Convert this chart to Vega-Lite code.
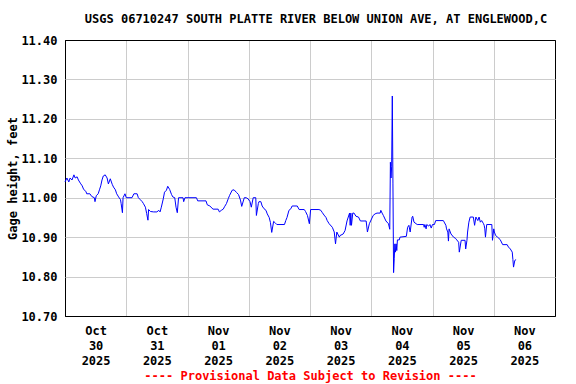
{
  "$schema": "https://vega.github.io/schema/vega-lite/v6.json",
  "width": 490,
  "height": 276,
  "autosize": {"type": "none"},
  "padding": {"left": 65, "top": 40, "right": 21, "bottom": 68},
  "background": "white",
  "config": {"view": {"stroke": "black", "strokeWidth": 1}, "font": "DejaVu Sans Mono"},
  "title": {"text": "USGS 06710247 SOUTH PLATTE RIVER BELOW UNION AVE, AT ENGLEWOOD,C", "font": "DejaVu Sans Mono", "fontSize": 12, "fontWeight": "bold", "color": "black", "anchor": "middle", "offset": 8, "dx": 6},
  "data": {"values": [
    {"t": "2025-10-30T00:00Z", "v": 11.04}, {"t": "2025-10-30T00:45Z", "v": 11.05}, {"t": "2025-10-30T01:30Z", "v": 11.04}, {"t": "2025-10-30T02:00Z", "v": 11.05},
    {"t": "2025-10-30T02:45Z", "v": 11.045}, {"t": "2025-10-30T03:30Z", "v": 11.058}, {"t": "2025-10-30T04:00Z", "v": 11.05}, {"t": "2025-10-30T04:45Z", "v": 11.053},
    {"t": "2025-10-30T05:15Z", "v": 11.045}, {"t": "2025-10-30T06:00Z", "v": 11.037}, {"t": "2025-10-30T06:45Z", "v": 11.03}, {"t": "2025-10-30T07:15Z", "v": 11.022},
    {"t": "2025-10-30T08:15Z", "v": 11.015}, {"t": "2025-10-30T08:30Z", "v": 11.01}, {"t": "2025-10-30T09:45Z", "v": 11.01}, {"t": "2025-10-30T10:30Z", "v": 11.003},
    {"t": "2025-10-30T11:30Z", "v": 11.0}, {"t": "2025-10-30T11:45Z", "v": 10.99}, {"t": "2025-10-30T12:15Z", "v": 11.005}, {"t": "2025-10-30T13:00Z", "v": 11.01},
    {"t": "2025-10-30T13:30Z", "v": 11.02}, {"t": "2025-10-30T14:00Z", "v": 11.03}, {"t": "2025-10-30T14:30Z", "v": 11.045}, {"t": "2025-10-30T15:00Z", "v": 11.055},
    {"t": "2025-10-30T15:45Z", "v": 11.058}, {"t": "2025-10-30T16:30Z", "v": 11.05}, {"t": "2025-10-30T17:00Z", "v": 11.035}, {"t": "2025-10-30T17:45Z", "v": 11.048},
    {"t": "2025-10-30T18:30Z", "v": 11.034}, {"t": "2025-10-30T19:00Z", "v": 11.027}, {"t": "2025-10-30T19:45Z", "v": 11.02}, {"t": "2025-10-30T20:15Z", "v": 11.01},
    {"t": "2025-10-30T21:00Z", "v": 11.002}, {"t": "2025-10-30T21:45Z", "v": 10.995}, {"t": "2025-10-30T22:00Z", "v": 10.985}, {"t": "2025-10-30T22:30Z", "v": 10.962},
    {"t": "2025-10-30T22:45Z", "v": 11.0}, {"t": "2025-10-30T23:30Z", "v": 11.01},
    {"t": "2025-10-31T00:00Z", "v": 11.0}, {"t": "2025-10-31T02:15Z", "v": 11.0}, {"t": "2025-10-31T03:00Z", "v": 11.01}, {"t": "2025-10-31T04:15Z", "v": 11.01},
    {"t": "2025-10-31T04:45Z", "v": 11.0}, {"t": "2025-10-31T05:30Z", "v": 10.995}, {"t": "2025-10-31T06:15Z", "v": 10.99}, {"t": "2025-10-31T06:45Z", "v": 10.985},
    {"t": "2025-10-31T07:30Z", "v": 10.976}, {"t": "2025-10-31T08:00Z", "v": 10.96}, {"t": "2025-10-31T08:30Z", "v": 10.943}, {"t": "2025-10-31T08:45Z", "v": 10.97},
    {"t": "2025-10-31T09:30Z", "v": 10.965}, {"t": "2025-10-31T10:45Z", "v": 10.964}, {"t": "2025-10-31T12:00Z", "v": 10.964}, {"t": "2025-10-31T12:45Z", "v": 10.968},
    {"t": "2025-10-31T13:15Z", "v": 10.964}, {"t": "2025-10-31T13:45Z", "v": 10.976}, {"t": "2025-10-31T14:30Z", "v": 10.997}, {"t": "2025-10-31T15:00Z", "v": 11.014},
    {"t": "2025-10-31T15:45Z", "v": 11.019}, {"t": "2025-10-31T16:15Z", "v": 11.029}, {"t": "2025-10-31T17:00Z", "v": 11.021}, {"t": "2025-10-31T17:45Z", "v": 11.008},
    {"t": "2025-10-31T18:15Z", "v": 11.002}, {"t": "2025-10-31T19:00Z", "v": 11.0}, {"t": "2025-10-31T19:30Z", "v": 10.976}, {"t": "2025-10-31T20:00Z", "v": 10.962},
    {"t": "2025-10-31T20:30Z", "v": 11.0}, {"t": "2025-10-31T22:15Z", "v": 11.0}, {"t": "2025-10-31T22:30Z", "v": 10.99}, {"t": "2025-10-31T23:00Z", "v": 11.0},
    {"t": "2025-11-01T03:30Z", "v": 11.0}, {"t": "2025-11-01T04:00Z", "v": 10.992}, {"t": "2025-11-01T07:15Z", "v": 10.992}, {"t": "2025-11-01T07:45Z", "v": 10.982},
    {"t": "2025-11-01T08:45Z", "v": 10.979}, {"t": "2025-11-01T10:00Z", "v": 10.971}, {"t": "2025-11-01T12:00Z", "v": 10.971}, {"t": "2025-11-01T12:30Z", "v": 10.964},
    {"t": "2025-11-01T13:15Z", "v": 10.968}, {"t": "2025-11-01T14:00Z", "v": 10.971}, {"t": "2025-11-01T14:30Z", "v": 10.977}, {"t": "2025-11-01T15:15Z", "v": 10.985},
    {"t": "2025-11-01T16:00Z", "v": 10.998}, {"t": "2025-11-01T16:30Z", "v": 11.006}, {"t": "2025-11-01T17:30Z", "v": 11.019}, {"t": "2025-11-01T18:15Z", "v": 11.02},
    {"t": "2025-11-01T19:15Z", "v": 11.013}, {"t": "2025-11-01T20:00Z", "v": 11.008}, {"t": "2025-11-01T20:45Z", "v": 10.994}, {"t": "2025-11-01T21:15Z", "v": 10.978},
    {"t": "2025-11-01T22:15Z", "v": 11.0}, {"t": "2025-11-01T23:00Z", "v": 11.0}, {"t": "2025-11-01T23:45Z", "v": 10.997},
    {"t": "2025-11-02T00:30Z", "v": 10.99}, {"t": "2025-11-02T01:00Z", "v": 10.976}, {"t": "2025-11-02T01:45Z", "v": 11.0}, {"t": "2025-11-02T02:45Z", "v": 11.0},
    {"t": "2025-11-02T03:00Z", "v": 10.955}, {"t": "2025-11-02T03:45Z", "v": 10.985}, {"t": "2025-11-02T04:00Z", "v": 10.99}, {"t": "2025-11-02T04:45Z", "v": 10.99},
    {"t": "2025-11-02T05:15Z", "v": 10.979}, {"t": "2025-11-02T06:00Z", "v": 10.972}, {"t": "2025-11-02T06:45Z", "v": 10.968}, {"t": "2025-11-02T07:15Z", "v": 10.959},
    {"t": "2025-11-02T08:00Z", "v": 10.95}, {"t": "2025-11-02T08:30Z", "v": 10.937}, {"t": "2025-11-02T09:00Z", "v": 10.912}, {"t": "2025-11-02T09:45Z", "v": 10.94},
    {"t": "2025-11-02T10:15Z", "v": 10.937}, {"t": "2025-11-02T11:00Z", "v": 10.932}, {"t": "2025-11-02T14:00Z", "v": 10.932}, {"t": "2025-11-02T14:30Z", "v": 10.942},
    {"t": "2025-11-02T15:00Z", "v": 10.95}, {"t": "2025-11-02T15:45Z", "v": 10.968}, {"t": "2025-11-02T16:30Z", "v": 10.972}, {"t": "2025-11-02T17:00Z", "v": 10.979},
    {"t": "2025-11-02T19:00Z", "v": 10.979}, {"t": "2025-11-02T19:45Z", "v": 10.97}, {"t": "2025-11-02T21:45Z", "v": 10.97}, {"t": "2025-11-02T22:15Z", "v": 10.965},
    {"t": "2025-11-02T23:00Z", "v": 10.955}, {"t": "2025-11-02T23:45Z", "v": 10.934},
    {"t": "2025-11-03T00:15Z", "v": 10.97}, {"t": "2025-11-03T03:30Z", "v": 10.97}, {"t": "2025-11-03T04:15Z", "v": 10.968}, {"t": "2025-11-03T04:45Z", "v": 10.963},
    {"t": "2025-11-03T05:30Z", "v": 10.956}, {"t": "2025-11-03T06:15Z", "v": 10.95}, {"t": "2025-11-03T06:45Z", "v": 10.942}, {"t": "2025-11-03T07:30Z", "v": 10.934},
    {"t": "2025-11-03T08:45Z", "v": 10.925}, {"t": "2025-11-03T09:30Z", "v": 10.913}, {"t": "2025-11-03T10:00Z", "v": 10.883}, {"t": "2025-11-03T10:30Z", "v": 10.913},
    {"t": "2025-11-03T11:30Z", "v": 10.9}, {"t": "2025-11-03T11:45Z", "v": 10.904}, {"t": "2025-11-03T13:00Z", "v": 10.908}, {"t": "2025-11-03T13:45Z", "v": 10.917},
    {"t": "2025-11-03T14:30Z", "v": 10.941}, {"t": "2025-11-03T15:30Z", "v": 10.961}, {"t": "2025-11-03T15:45Z", "v": 10.93}, {"t": "2025-11-03T16:00Z", "v": 10.961},
    {"t": "2025-11-03T16:15Z", "v": 10.93}, {"t": "2025-11-03T16:45Z", "v": 10.961}, {"t": "2025-11-03T17:15Z", "v": 10.961}, {"t": "2025-11-03T18:00Z", "v": 10.953},
    {"t": "2025-11-03T19:00Z", "v": 10.951}, {"t": "2025-11-03T19:45Z", "v": 10.941}, {"t": "2025-11-03T22:00Z", "v": 10.941}, {"t": "2025-11-03T22:30Z", "v": 10.913},
    {"t": "2025-11-03T23:15Z", "v": 10.934}, {"t": "2025-11-03T23:45Z", "v": 10.941},
    {"t": "2025-11-04T00:45Z", "v": 10.955}, {"t": "2025-11-04T01:30Z", "v": 10.959}, {"t": "2025-11-04T02:15Z", "v": 10.961}, {"t": "2025-11-04T03:30Z", "v": 10.961},
    {"t": "2025-11-04T03:45Z", "v": 10.968}, {"t": "2025-11-04T04:15Z", "v": 10.961}, {"t": "2025-11-04T04:45Z", "v": 10.955}, {"t": "2025-11-04T05:45Z", "v": 10.941},
    {"t": "2025-11-04T06:45Z", "v": 10.934}, {"t": "2025-11-04T07:15Z", "v": 10.92}, {"t": "2025-11-04T07:30Z", "v": 11.09}, {"t": "2025-11-04T07:45Z", "v": 11.05},
    {"t": "2025-11-04T08:00Z", "v": 11.08}, {"t": "2025-11-04T08:15Z", "v": 11.258}, {"t": "2025-11-04T08:30Z", "v": 11.035}, {"t": "2025-11-04T08:45Z", "v": 10.81},
    {"t": "2025-11-04T09:00Z", "v": 10.845}, {"t": "2025-11-04T09:15Z", "v": 10.883}, {"t": "2025-11-04T09:30Z", "v": 10.862}, {"t": "2025-11-04T09:45Z", "v": 10.883},
    {"t": "2025-11-04T10:00Z", "v": 10.866}, {"t": "2025-11-04T10:15Z", "v": 10.893}, {"t": "2025-11-04T11:00Z", "v": 10.893}, {"t": "2025-11-04T11:15Z", "v": 10.9},
    {"t": "2025-11-04T13:45Z", "v": 10.902}, {"t": "2025-11-04T14:15Z", "v": 10.925}, {"t": "2025-11-04T14:45Z", "v": 10.93}, {"t": "2025-11-04T15:15Z", "v": 10.913},
    {"t": "2025-11-04T16:00Z", "v": 10.951}, {"t": "2025-11-04T16:15Z", "v": 10.953}, {"t": "2025-11-04T16:45Z", "v": 10.938}, {"t": "2025-11-04T18:00Z", "v": 10.932},
    {"t": "2025-11-04T20:30Z", "v": 10.932}, {"t": "2025-11-04T20:45Z", "v": 10.925}, {"t": "2025-11-04T21:00Z", "v": 10.932}, {"t": "2025-11-04T21:30Z", "v": 10.921},
    {"t": "2025-11-04T21:45Z", "v": 10.932}, {"t": "2025-11-04T22:30Z", "v": 10.928}, {"t": "2025-11-04T23:00Z", "v": 10.932}, {"t": "2025-11-04T23:30Z", "v": 10.923},
    {"t": "2025-11-05T00:00Z", "v": 10.932}, {"t": "2025-11-05T00:45Z", "v": 10.932}, {"t": "2025-11-05T01:15Z", "v": 10.942}, {"t": "2025-11-05T04:15Z", "v": 10.942},
    {"t": "2025-11-05T04:45Z", "v": 10.936}, {"t": "2025-11-05T05:15Z", "v": 10.93}, {"t": "2025-11-05T05:30Z", "v": 10.921}, {"t": "2025-11-05T06:00Z", "v": 10.913},
    {"t": "2025-11-05T06:15Z", "v": 10.89}, {"t": "2025-11-05T06:30Z", "v": 10.921}, {"t": "2025-11-05T07:15Z", "v": 10.908}, {"t": "2025-11-05T08:15Z", "v": 10.9},
    {"t": "2025-11-05T09:00Z", "v": 10.897}, {"t": "2025-11-05T09:30Z", "v": 10.893}, {"t": "2025-11-05T10:15Z", "v": 10.887}, {"t": "2025-11-05T10:30Z", "v": 10.862},
    {"t": "2025-11-05T11:15Z", "v": 10.892}, {"t": "2025-11-05T12:45Z", "v": 10.892}, {"t": "2025-11-05T13:00Z", "v": 10.87}, {"t": "2025-11-05T13:30Z", "v": 10.892},
    {"t": "2025-11-05T13:45Z", "v": 10.913}, {"t": "2025-11-05T14:15Z", "v": 10.938}, {"t": "2025-11-05T14:45Z", "v": 10.951}, {"t": "2025-11-05T16:00Z", "v": 10.951},
    {"t": "2025-11-05T16:30Z", "v": 10.93}, {"t": "2025-11-05T17:00Z", "v": 10.951}, {"t": "2025-11-05T17:45Z", "v": 10.942}, {"t": "2025-11-05T18:15Z", "v": 10.951},
    {"t": "2025-11-05T18:45Z", "v": 10.938}, {"t": "2025-11-05T19:15Z", "v": 10.942}, {"t": "2025-11-05T20:00Z", "v": 10.934}, {"t": "2025-11-05T20:15Z", "v": 10.93},
    {"t": "2025-11-05T20:30Z", "v": 10.921}, {"t": "2025-11-05T20:45Z", "v": 10.9}, {"t": "2025-11-05T21:15Z", "v": 10.932}, {"t": "2025-11-05T23:15Z", "v": 10.932},
    {"t": "2025-11-05T23:30Z", "v": 10.892},
    {"t": "2025-11-06T00:00Z", "v": 10.921}, {"t": "2025-11-06T00:15Z", "v": 10.913}, {"t": "2025-11-06T00:45Z", "v": 10.904}, {"t": "2025-11-06T01:30Z", "v": 10.9},
    {"t": "2025-11-06T02:30Z", "v": 10.894}, {"t": "2025-11-06T03:30Z", "v": 10.881}, {"t": "2025-11-06T05:15Z", "v": 10.881}, {"t": "2025-11-06T05:45Z", "v": 10.875},
    {"t": "2025-11-06T06:30Z", "v": 10.87}, {"t": "2025-11-06T07:15Z", "v": 10.862}, {"t": "2025-11-06T07:30Z", "v": 10.843}, {"t": "2025-11-06T07:45Z", "v": 10.824},
    {"t": "2025-11-06T08:15Z", "v": 10.841}, {"t": "2025-11-06T08:45Z", "v": 10.843}
  ]},
  "mark": {"type": "line", "color": "#0000ff", "strokeWidth": 1, "interpolate": "linear"},
  "encoding": {
    "x": {
      "field": "t", "type": "temporal",
      "scale": {"type": "utc", "domain": [{"year": 2025, "month": "oct", "date": 30, "utc": true}, {"year": 2025, "month": "nov", "date": 7, "utc": true}]},
      "axis": {
        "values": [
          {"year": 2025, "month": "oct", "date": 30, "utc": true}, {"year": 2025, "month": "oct", "date": 31, "utc": true},
          {"year": 2025, "month": "nov", "date": 1, "utc": true}, {"year": 2025, "month": "nov", "date": 2, "utc": true},
          {"year": 2025, "month": "nov", "date": 3, "utc": true}, {"year": 2025, "month": "nov", "date": 4, "utc": true},
          {"year": 2025, "month": "nov", "date": 5, "utc": true}, {"year": 2025, "month": "nov", "date": 6, "utc": true}
        ],
        "labelExpr": "[utcFormat(datum.value, '%b'), utcFormat(datum.value, '%d'), utcFormat(datum.value, '%Y')]",
        "labelOffset": 30.6, "labelAlign": "center", "labelBaseline": "top", "labelPadding": 9, "labelLineHeight": 15,
        "labelFont": "DejaVu Sans Mono", "labelFontSize": 12, "labelFontWeight": "bold", "labelColor": "black",
        "labelOverlap": false, "labelFlush": false, "labelBound": false,
        "ticks": false, "domain": false, "grid": true, "gridWidth": 1,
        "gridColor": {"condition": {"test": "utcdate(datum.value) == 30 && utcmonth(datum.value) == 9", "value": "black"}, "value": "#cccccc"},
        "title": "---- Provisional Data Subject to Revision ----", "titleColor": "#ff0000", "titleFont": "DejaVu Sans Mono",
        "titleFontSize": 12, "titleFontWeight": "bold", "titlePadding": 4
      }
    },
    "y": {
      "field": "v", "type": "quantitative",
      "scale": {"domain": [10.7, 11.4], "zero": false, "nice": false},
      "axis": {
        "values": [10.7, 10.8, 10.9, 11.0, 11.1, 11.2, 11.3, 11.4], "format": ".2f",
        "labelFont": "DejaVu Sans Mono", "labelFontSize": 12, "labelFontWeight": "bold", "labelColor": "black", "labelPadding": 8,
        "ticks": false, "domain": false, "grid": true, "gridWidth": 1,
        "gridColor": {"condition": {"test": "datum.value < 10.75 || datum.value > 11.35", "value": "black"}, "value": "#cccccc"},
        "title": "Gage height, feet", "titleFont": "DejaVu Sans Mono", "titleFontSize": 12, "titleFontWeight": "bold", "titleColor": "black",
        "titleX": -53, "titleY": 138, "titleAngle": -90, "titleBaseline": "middle", "titleAlign": "center"
      }
    }
  }
}
